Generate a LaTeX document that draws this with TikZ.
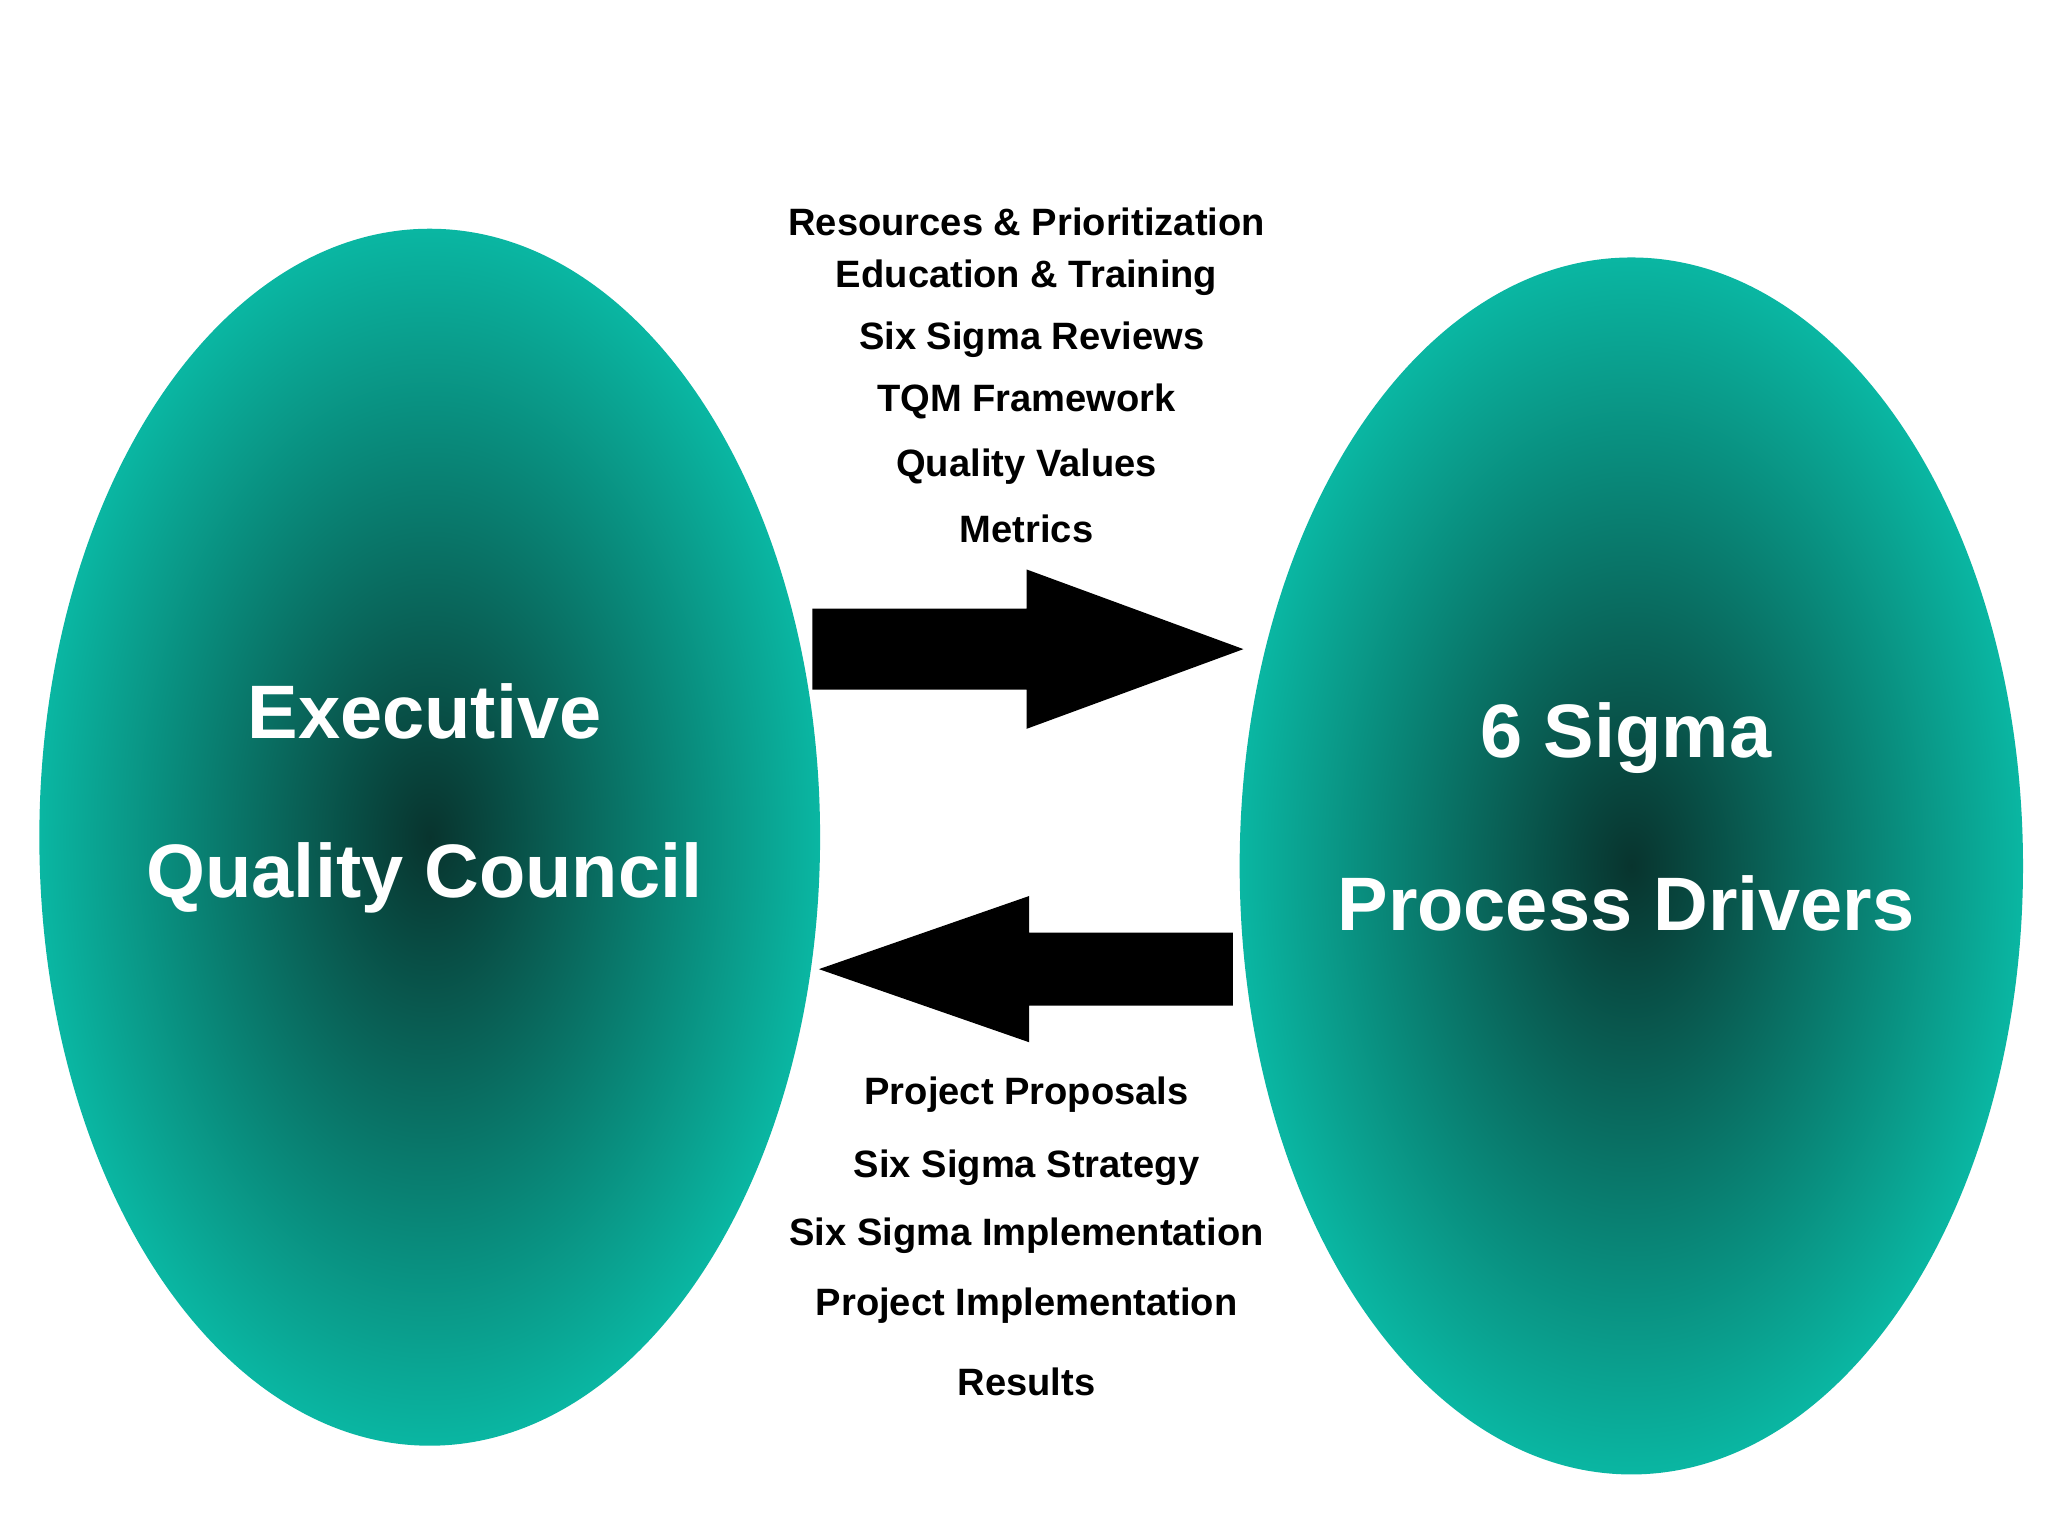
\documentclass[tikz,border=0pt]{standalone}
\usepackage{fontspec}
\setmainfont{Liberation Sans}
\begin{document}
\begin{tikzpicture}[x=0.01cm,y=-0.01cm,
  lbl/.style={font=\fontsize{8.3pt}{10pt}\selectfont\bfseries,text=black},
  big/.style={font=\fontsize{16.5pt}{20pt}\selectfont\bfseries,text=white},
  blob/.style={inner color={rgb,255:red,8;green,52;blue,46},outer color={rgb,255:red,10;green,182;blue,162}}]
\definecolor{tealedge}{RGB}{10,182,162}
\useasboundingbox (0,0) rectangle (1568,1176);
\fill[white] (0,0) rectangle (1568,1176);
\shade[blob] (329,641) ellipse [x radius=298,y radius=465];
\shade[blob] (1249,663) ellipse [x radius=299,y radius=465];
\draw[tealedge,line width=0.5pt] (329,641) ellipse [x radius=298,y radius=465];
\draw[tealedge,line width=0.5pt] (1249,663) ellipse [x radius=299,y radius=465];
\fill[black] (622,466) -- (786,466) -- (786,436) -- (952,497) -- (786,558) -- (786,528) -- (622,528) -- cycle;
\fill[black] (944,714) -- (788,714) -- (788,686) -- (627,742) -- (788,798) -- (788,770) -- (944,770) -- cycle;
\node[big] (e1) at (325,545) {Executive};
\node[big] (e2) at (325,672) {Quality Council};
\node[big] (s1) at (1245,565) {6 Sigma};
\node[big] (s2) at (1245,692) {Process Drivers};
\node[lbl] (t1) at (786,170) {Resources \& Prioritization};
\node[lbl] (t2) at (786,213) {Education \& Training};
\node[lbl] (t3) at (790,260) {Six Sigma Reviews};
\node[lbl] (t4) at (786,307) {TQM Framework};
\node[lbl] (t5) at (786,357) {Quality Values};
\node[lbl] (t6) at (786,405) {Metrics};
\node[lbl] (b1) at (786,838) {Project Proposals};
\node[lbl] (b2) at (786,894) {Six Sigma Strategy};
\node[lbl] (b3) at (786,946) {Six Sigma Implementation};
\node[lbl] (b4) at (786,1000) {Project Implementation};
\node[lbl] (b5) at (786,1058) {Results};
\end{tikzpicture}
\end{document}
